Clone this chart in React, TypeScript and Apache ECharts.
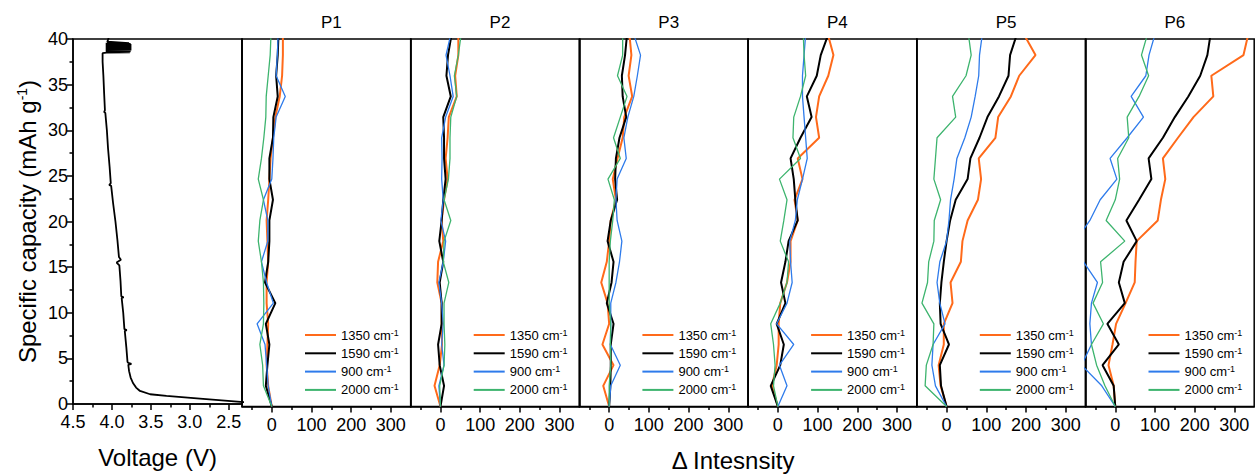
import React, { useEffect, useRef } from "react";
import * as echarts from "echarts";

// ---------- data ----------
const capacity = [0, 2.25, 4.5, 6.75, 9, 11.25, 13.5, 15.75, 18, 20.25, 22.5, 24.75, 27, 29.25, 31.5, 33.75, 36, 38.25, 40.5];

const lineNames = ["1350 cm-1", "1590 cm-1", "900 cm-1", "2000 cm-1"];
const lineColors = ["#FF6A1A", "#000000", "#2E7BEB", "#3DB46E"];
const lineWidths = [2, 2, 1.3, 1.3];
const panelTitles = ["P1", "P2", "P3", "P4", "P5", "P6"];

const p1_1350 = [0, -9, -13, -11, -9, -13, -13, -9, -11, -13, -9, -6, -3, 3, 9, 20, 26, 28, 28];
const p1_1590 = [0, -15, -11, -6, -15, 9, -17, -9, -6, -6, 3, -6, -6, 3, 4, 15, 11, 15, 17];
const p1_900 = [0, -9, -13, -17, -37, 4, -13, -26, -10, -10, -21, 0, 3, 5, 11, 34, 11, 14, 16];
const p1_2000 = [0, -21, -23, -30, -21, -20, -21, -26, -34, -30, -21, -34, -26, -20, -15, -14, -9, -4, -2];

const p2_1350 = [0, -15, -2, 4, 3, 3, -8, -6, 7, 3, 9, 18, 13, 18, 21, 41, 37, 45, 45];
const p2_1590 = [0, 9, -2, -6, 3, 3, -2, 7, -3, 3, 7, 13, 9, 9, 7, 26, 15, 19, 28];
const p2_900 = [0, -4, 9, 3, 7, 3, -4, 7, 13, 1, 7, 3, 4, 3, 13, 32, 24, 14, 26];
const p2_2000 = [0, -2, 9, 11, 9, 9, 21, 7, 9, 26, 9, 20, 24, 24, 26, 41, 35, 45, 52];

const p3_1350 = [0, -15, 11, -17, 0, -4, -20, -6, 0, 4, 17, 9, 21, 34, 38, 58, 49, 56, 51];
const p3_1590 = [0, 3, 4, 4, 11, -6, 6, 11, -4, 4, 20, 15, 17, 26, 43, 34, 32, 40, 45];
const p3_900 = [0, 4, 28, 3, 4, 4, 17, 26, 32, 20, 17, 20, 43, 37, 47, 62, 71, 79, 62];
const p3_2000 = [0, 0, 4, 3, 4, 0, 0, 0, 3, 9, 13, -3, 28, 11, 28, 45, 21, 34, 34];

const p4_1350 = [0, -15, -3, 2, 2, 6, 23, 32, 32, 50, 42, 62, 50, 104, 96, 104, 127, 140, 126];
const p4_1590 = [0, -18, 6, 15, -3, 19, 8, 19, 27, 50, 44, 40, 32, 57, 85, 73, 98, 108, 127];
const p4_900 = [0, 23, 4, 40, -3, 23, 36, 32, 30, 44, 49, 62, 74, 70, 66, 62, 62, 66, 70];
const p4_2000 = [0, -11, -7, -11, -18, 6, 23, 27, 6, 15, 23, 4, 57, 38, 40, 57, 70, 66, 64];

const p5_1350 = [0, -15, -20, -7, -7, 15, 10, 36, 40, 53, 79, 87, 81, 123, 130, 162, 183, 224, 195];
const p5_1590 = [0, -14, -17, 6, -15, -17, -13, -7, 0, 9, 23, 53, 60, 83, 103, 132, 156, 160, 177];
const p5_900 = [0, -28, -37, -34, -4, -17, -24, -17, 0, 6, 10, 19, 26, 46, 62, 72, 81, 83, 90];
const p5_2000 = [0, -54, -51, -34, -32, -62, -48, -45, -32, -31, -15, -32, -28, -24, 23, 15, 49, 62, 55];

const p6_1350 = [0, -4, -17, -7, 2, 26, 49, 51, 54, 107, 115, 126, 120, 158, 197, 247, 242, 323, 335];
const p6_1590 = [0, -4, -32, 9, -20, 24, 9, 21, 54, 28, 60, 91, 84, 120, 150, 184, 214, 232, 240];
const p6_900 = [0, -34, -85, -60, -64, -60, -45, -80, -100, -64, -38, 4, -13, 30, 71, 40, 77, 85, 100];
const p6_2000 = [0, -26, -47, -60, -30, -56, -32, -37, 24, -23, 0, 11, 6, 34, 30, 60, 84, 66, 81];

const panelSeries = [
  [p1_1350, p1_1590, p1_900, p1_2000],
  [p2_1350, p2_1590, p2_900, p2_2000],
  [p3_1350, p3_1590, p3_900, p3_2000],
  [p4_1350, p4_1590, p4_900, p4_2000],
  [p5_1350, p5_1590, p5_900, p5_2000],
  [p6_1350, p6_1590, p6_900, p6_2000],
];

const voltageCap = [0.1, 0.24, 0.6, 0.89, 1.07, 1.43, 1.8, 2.3, 2.9, 3.6, 4.3, 4.4, 4.5, 4.6, 6.2, 8.0, 8.1, 8.2, 10.0, 11.6, 11.7, 11.8, 13.5, 15.2, 15.5, 15.8, 16.1, 18.0, 20.0, 22.0, 23.9, 24.0, 24.2, 26.0, 28.0, 30.0, 31.9, 32.0, 32.2, 34.0, 36.0, 37.5, 38.2, 38.45, 38.5, 38.55, 38.6, 38.65, 38.7, 38.75, 38.8, 38.85, 38.9, 38.95, 39.0, 39.05, 39.1, 39.15, 39.2, 39.25, 39.3, 39.35, 39.4, 39.45, 39.5, 39.55, 39.7, 39.9, 40.2];
const voltageV = [2.2, 2.35, 2.87, 3.3, 3.51, 3.64, 3.69, 3.73, 3.76, 3.78, 3.79, 3.75, 3.79, 3.8, 3.815, 3.835, 3.81, 3.84, 3.855, 3.875, 3.85, 3.88, 3.89, 3.905, 3.94, 3.885, 3.91, 3.93, 3.955, 3.985, 4.01, 4.035, 4.015, 4.03, 4.05, 4.065, 4.085, 4.1, 4.09, 4.1, 4.11, 4.12, 4.12, 4.12, 4.07, 3.77, 4.08, 3.76, 4.08, 3.76, 4.08, 3.75, 4.08, 3.75, 4.08, 3.75, 4.08, 3.75, 4.08, 3.75, 4.08, 3.75, 4.08, 3.76, 4.08, 3.78, 4.06, 4.05, 4.04];

const capTicks = [0, 5, 10, 15, 20, 25, 30, 35, 40];
const voltageTicks = [4.5, 4.0, 3.5, 3.0, 2.5];
const voltageMinorTicks = [4.25, 3.75, 3.25, 2.75];
const intensityTicks = [0, 100, 200, 300];
const intensityMinorTicks = [-50, 50, 150, 250];

// ---------- layout ----------
const FONT = "'Liberation Sans', Arial, Helvetica, sans-serif";
const TOP = 39;
const PLOT_H = 367.5;
const V_LEFT = 73;
const V_W = 169;
const P_W = 168.7;
const I_MIN = -75;
const I_MAX = 350;

export default function App() {
  const ref = useRef<HTMLDivElement>(null);

  useEffect(() => {
    const chart = echarts.init(ref.current as HTMLDivElement, null, { renderer: "svg" });

    const gridBase = { show: true, borderColor: "#000", borderWidth: 1.5, backgroundColor: "transparent", containLabel: false };
    const grids: any[] = [{ ...gridBase, left: V_LEFT, top: TOP, width: V_W, height: PLOT_H }];
    for (let i = 0; i < 6; i++) {
      grids.push({ ...gridBase, left: V_LEFT + V_W + i * P_W, top: TOP, width: P_W, height: PLOT_H });
    }

    const majorX = (gridIndex: number, min: number, max: number, ticks: number[], inverse: boolean, fmt: (v: number) => string, extra: any = {}) => ({
      type: "value",
      gridIndex,
      min,
      max,
      inverse,
      position: "bottom",
      axisLine: { show: true, onZero: false, lineStyle: { color: "#000", width: 1.5 } },
      axisTick: { show: true, inside: false, length: 6, customValues: ticks, lineStyle: { color: "#000", width: 1.5 } },
      axisLabel: { show: true, customValues: ticks, margin: 9, fontSize: 18, color: "#000", fontFamily: FONT, formatter: fmt },
      splitLine: { show: false },
      ...extra,
    });
    const minorX = (gridIndex: number, min: number, max: number, ticks: number[], inverse: boolean) => ({
      type: "value",
      gridIndex,
      min,
      max,
      inverse,
      position: "bottom",
      axisLine: { show: false, onZero: false },
      axisTick: { show: true, inside: false, length: 3.5, customValues: ticks, lineStyle: { color: "#000", width: 1.5 } },
      axisLabel: { show: false },
      splitLine: { show: false },
    });

    const xAxes: any[] = [
      majorX(0, 2.33, 4.5, voltageTicks, true, (v: number) => v.toFixed(1), {
        name: "Voltage (V)",
        nameLocation: "middle",
        nameGap: 41,
        nameTextStyle: { fontSize: 24, color: "#000", fontFamily: FONT },
      }),
      minorX(0, 2.33, 4.5, voltageMinorTicks, true),
    ];
    for (let i = 0; i < 6; i++) {
      xAxes.push(majorX(i + 1, I_MIN, I_MAX, intensityTicks, false, (v: number) => String(v)));
      xAxes.push(minorX(i + 1, I_MIN, I_MAX, intensityMinorTicks, false));
    }

    const yAxes: any[] = [
      {
        type: "value",
        gridIndex: 0,
        min: 0,
        max: 40,
        interval: 5,
        position: "left",
        axisLine: { show: true, onZero: false, lineStyle: { color: "#000", width: 1.5 } },
        axisTick: { show: true, inside: false, length: 6, lineStyle: { color: "#000", width: 1.5 } },
        minorTick: { show: true, splitNumber: 2, length: 3.5, lineStyle: { color: "#000", width: 1.5 } },
        axisLabel: { show: true, margin: 5, fontSize: 18, color: "#000", fontFamily: FONT, customValues: capTicks },
        splitLine: { show: false },
        minorSplitLine: { show: false },
        name: "Specific capacity (mAh g{sup|-1})",
        nameLocation: "middle",
        nameGap: 34,
        nameTextStyle: {
          fontSize: 24,
          color: "#000",
          fontFamily: FONT,
          rich: { sup: { fontSize: 14, color: "#000", fontFamily: FONT, verticalAlign: "top" } },
        },
      },
    ];
    for (let i = 0; i < 6; i++) {
      yAxes.push({
        type: "value",
        gridIndex: i + 1,
        min: 0,
        max: 40,
        interval: 5,
        position: "left",
        axisLine: { show: true, onZero: false, lineStyle: { color: "#000", width: 1.5 } },
        axisTick: { show: false },
        axisLabel: { show: false },
        splitLine: { show: false },
      });
    }

    const series: any[] = [
      {
        type: "line",
        name: "voltage",
        xAxisIndex: 0,
        yAxisIndex: 0,
        data: voltageCap.map((c, k) => [voltageV[k], c]),
        showSymbol: false,
        symbol: "none",
        lineStyle: { color: "#000", width: 1.8 },
        itemStyle: { color: "#000" },
        clip: true,
      },
    ];
    panelSeries.forEach((lines, p) => {
      lines.forEach((vals, j) => {
        series.push({
          type: "line",
          name: lineNames[j],
          xAxisIndex: 2 + 2 * p,
          yAxisIndex: p + 1,
          data: capacity.map((c, k) => [vals[k], c]),
          showSymbol: false,
          symbol: "none",
          lineStyle: { color: lineColors[j], width: lineWidths[j] },
          itemStyle: { color: lineColors[j] },
          clip: true,
        });
      });
    });

    const legends = panelTitles.map((_, i) => ({
      left: V_LEFT + V_W + i * P_W + 63,
      top: 328,
      orient: "vertical",
      itemWidth: 31,
      itemHeight: 2,
      itemGap: 4.3,
      icon: "rect",
      padding: 0,
      selectedMode: false,
      data: lineNames,
      formatter: (n: string) => n.replace("-1", "{sup|-1}"),
      textStyle: {
        fontSize: 13,
        lineHeight: 14,
        color: "#000",
        fontFamily: FONT,
        rich: { sup: { fontSize: 9, lineHeight: 14, color: "#000", fontFamily: FONT, verticalAlign: "top" } },
      },
    }));

    const graphics: any[] = panelTitles.map((t, i) => ({
      type: "text",
      x: V_LEFT + V_W + i * P_W + ((150 - I_MIN) / (I_MAX - I_MIN)) * P_W,
      y: 22,
      style: { text: t, fontSize: 17, fontFamily: FONT, fill: "#000", textAlign: "center", textVerticalAlign: "middle" },
    }));
    graphics.push({
      type: "text",
      x: 733,
      y: 460,
      style: { text: "Δ Intesnsity", fontSize: 24, fontFamily: FONT, fill: "#000", textAlign: "center", textVerticalAlign: "middle" },
    });

    chart.setOption({
      animation: false,
      backgroundColor: "#fff",
      grid: grids,
      xAxis: xAxes,
      yAxis: yAxes,
      legend: legends,
      series,
      graphic: graphics,
    });

    return () => chart.dispose();
  }, []);

  return <div ref={ref} style={{ position: "fixed", left: 0, top: 0, width: 1257, height: 474 }} />;
}
